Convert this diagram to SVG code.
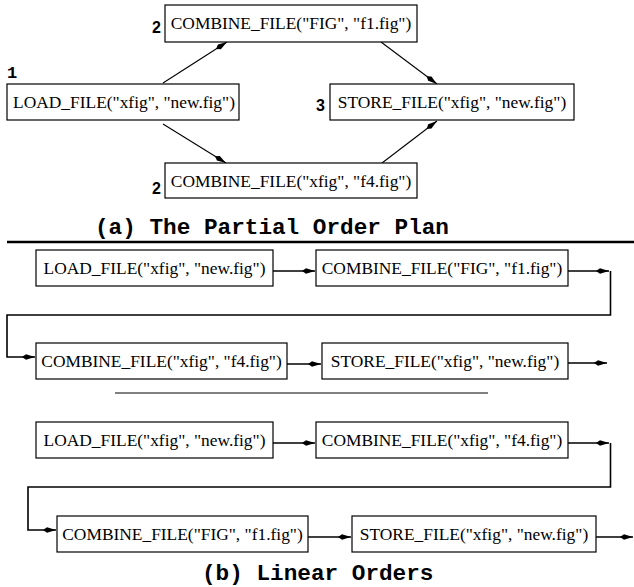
<svg xmlns="http://www.w3.org/2000/svg" width="634" height="587" viewBox="0 0 634 587">
<style>
.box{fill:#fff;stroke:#000;stroke-width:1.2}
.t{font-family:"Liberation Serif","Times New Roman",serif;font-size:17.4px;fill:#000;text-anchor:middle}
.n{font-family:"Liberation Sans",Arial,sans-serif;font-weight:bold;font-size:16px;fill:#000}
.nm{font-family:"Liberation Mono","Courier New",monospace;font-weight:bold;font-size:17px;fill:#000}
.title{font-family:"Liberation Mono","Courier New",monospace;font-weight:bold;font-size:22.7px;fill:#000}
.c{fill:none;stroke:#000;stroke-width:1.1}
.c2{fill:none;stroke:#000;stroke-width:1.6}
</style>
<defs>
<marker id="ah" markerUnits="userSpaceOnUse" viewBox="0 0 13 7" refX="13" refY="3.5" markerWidth="13" markerHeight="7" orient="auto">
<path d="M0,3.5 L4,0.8 L13,3.5 L4,6.2 z" fill="#000"/>
</marker>
</defs>

<g id="connectors">
<line class="c" x1="163" y1="83" x2="227" y2="42" marker-end="url(#ah)"/>
<line class="c" x1="163" y1="124" x2="226" y2="163" marker-end="url(#ah)"/>
<line class="c" x1="381" y1="42" x2="437" y2="84" marker-end="url(#ah)"/>
<line class="c" x1="382" y1="163" x2="437" y2="121" marker-end="url(#ah)"/>

<line class="c2" x1="273" y1="271" x2="315" y2="271" marker-end="url(#ah)"/>
<line class="c2" x1="568" y1="271" x2="609" y2="271" marker-end="url(#ah)"/>
<polyline class="c2" points="610.5,271 610.5,315 7,315 7,357 35,357" marker-end="url(#ah)"/>
<line class="c2" x1="287" y1="364" x2="321" y2="364" marker-end="url(#ah)"/>
<line class="c2" x1="568" y1="363" x2="607" y2="363" marker-end="url(#ah)"/>

<line class="c2" x1="273" y1="443" x2="315" y2="443" marker-end="url(#ah)"/>
<line class="c2" x1="568" y1="443" x2="609" y2="443" marker-end="url(#ah)"/>
<polyline class="c2" points="610.5,443 610.5,487 28,487 28,530 56,530" marker-end="url(#ah)"/>
<line class="c2" x1="308" y1="537" x2="351" y2="537" marker-end="url(#ah)"/>
<line class="c2" x1="596" y1="537" x2="633" y2="537" marker-end="url(#ah)"/>
</g>

<g id="a-load">
<rect class="box" x="7" y="84" width="232" height="36"/>
<text class="t" x="124" y="108">LOAD_FILE("xfig", "new.fig")</text>
<text class="nm" x="7" y="78">1</text>
</g>
<g id="a-combine-fig">
<rect class="box" x="165" y="5" width="252" height="37"/>
<text class="t" x="291" y="29">COMBINE_FILE("FIG", "f1.fig")</text>
<text class="n" x="152" y="33">2</text>
</g>
<g id="a-combine-xfig">
<rect class="box" x="165" y="163" width="252" height="35"/>
<text class="t" x="291" y="187">COMBINE_FILE("xfig", "f4.fig")</text>
<text class="n" x="152" y="194">2</text>
</g>
<g id="a-store">
<rect class="box" x="330" y="84" width="244" height="36"/>
<text class="t" x="452" y="108">STORE_FILE("xfig", "new.fig")</text>
<text class="n" x="316" y="111">3</text>
</g>

<text class="title" x="95" y="234">(a) The Partial Order Plan</text>
<line x1="7" y1="242" x2="634" y2="242" stroke="#000" stroke-width="2.5"/>

<g id="b1-load">
<rect class="box" x="36" y="250" width="237" height="36"/>
<text class="t" x="154.5" y="274">LOAD_FILE("xfig", "new.fig")</text>
</g>
<g id="b1-combine-fig">
<rect class="box" x="316" y="250" width="252" height="36"/>
<text class="t" x="442" y="274">COMBINE_FILE("FIG", "f1.fig")</text>
</g>
<g id="b1-combine-xfig">
<rect class="box" x="36" y="343" width="251" height="36"/>
<text class="t" x="161.5" y="367">COMBINE_FILE("xfig", "f4.fig")</text>
</g>
<g id="b1-store">
<rect class="box" x="322" y="343" width="246" height="36"/>
<text class="t" x="445" y="367">STORE_FILE("xfig", "new.fig")</text>
</g>

<line x1="115" y1="393" x2="488" y2="393" stroke="#000" stroke-width="1"/>

<g id="b2-load">
<rect class="box" x="36" y="422" width="237" height="36"/>
<text class="t" x="154.5" y="446">LOAD_FILE("xfig", "new.fig")</text>
</g>
<g id="b2-combine-xfig">
<rect class="box" x="316" y="422" width="252" height="36"/>
<text class="t" x="442" y="446">COMBINE_FILE("xfig", "f4.fig")</text>
</g>
<g id="b2-combine-fig">
<rect class="box" x="57" y="516" width="251" height="36"/>
<text class="t" x="182.5" y="540">COMBINE_FILE("FIG", "f1.fig")</text>
</g>
<g id="b2-store">
<rect class="box" x="352" y="516" width="244" height="36"/>
<text class="t" x="474" y="540">STORE_FILE("xfig", "new.fig")</text>
</g>

<text class="title" x="202" y="580">(b) Linear Orders</text>
</svg>
